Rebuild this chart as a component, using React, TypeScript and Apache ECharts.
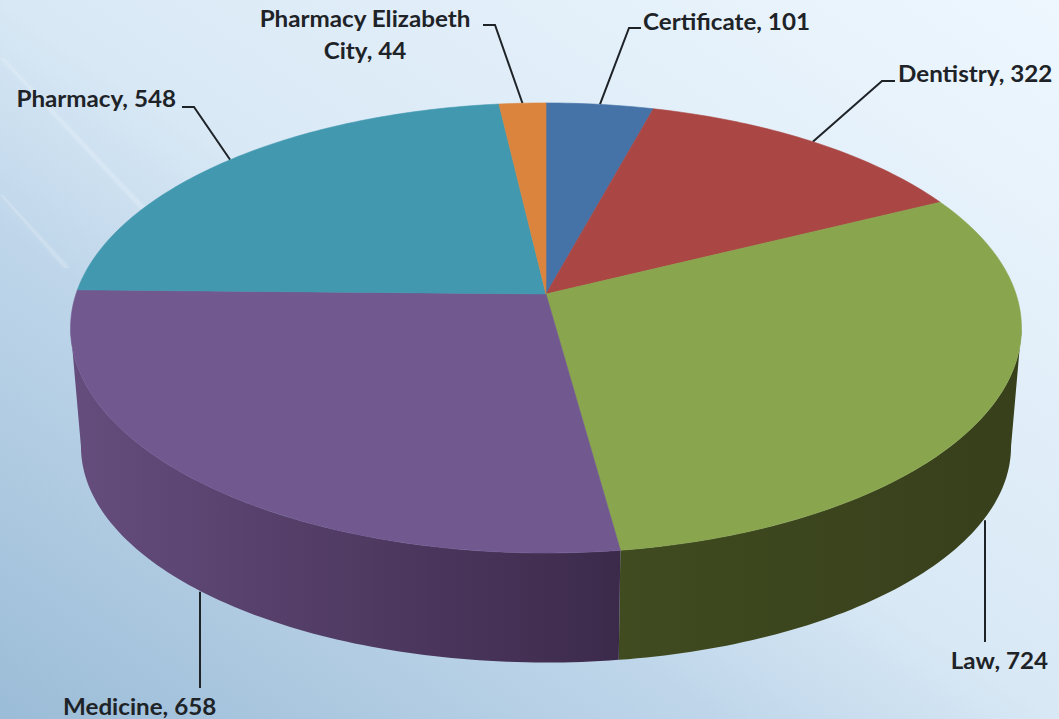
import React, { useEffect, useRef } from "react";
import * as echarts from "echarts";

const categories = ["Certificate", "Dentistry", "Law", "Medicine", "Pharmacy", "Pharmacy Elizabeth City"];
const values = [101, 322, 724, 658, 548, 44];
const colors = ["#4572A7", "#AA4643", "#89A54E", "#71588F", "#4198AF", "#DB843D"];
const wallLeft = ["#39608C", "#8E3A38", "#404B20", "#654D7D", "#367F92", "#B76E33"];
const wallRight = ["#39608C", "#8E3A38", "#373F1B", "#3C2A4B", "#367F92", "#B76E33"];

// label placement: text anchor point, alignment and leader elbow
const labelX = [643, 898, 1048, 63, 176, 365];
const labelY = [21, 73, 660, 706, 98, 34];
const labelAlign = ["left", "left", "right", "left", "right", "center"];
const elbowA = [[641, 28], [895, 81], [985, 642], [200, 688], [182, 107], [483, 25]];
const elbowB = [[629, 28], [882, 81], null, null, [194, 107], [495, 25]];

const W = 1059;
const H = 719;
const P = 0.151;
const TOP = { cx: 546, cy: 294, a: 470, b: 219.9 };
const BOTTOM = { cx: 546, cy: 414, a: 459.7, b: 211 };
const total = values.reduce((s, v) => s + v, 0);
const starts = values.map((_, i) => values.slice(0, i).reduce((s, v) => s + v, 0));
const toDeg = (v: number) => (v / total) * 360;

function project(d: typeof TOP, deg: number): number[] {
  const t = (deg * Math.PI) / 180;
  const u = Math.sin(t);
  const v = Math.cos(t);
  const k = 1 + P * v;
  return [d.cx + (d.a * u) / k, d.cy - (d.b * v) / k];
}

function arc(d: typeof TOP, a0: number, a1: number): number[][] {
  const n = Math.max(2, Math.ceil(Math.abs(a1 - a0)));
  const pts: number[][] = [];
  for (let i = 0; i <= n; i++) pts.push(project(d, a0 + ((a1 - a0) * i) / n));
  return pts;
}

const VIS_R = (Math.acos(-P) * 180) / Math.PI;
const VIS_L = 360 - VIS_R;

function renderSlice(params: any, api: any) {
  const i = params.dataIndex;
  const a0 = toDeg(starts[i]);
  const a1 = a0 + toDeg(api.value(0));
  const children: any[] = [];
  const w0 = Math.max(a0, VIS_R);
  const w1 = Math.min(a1, VIS_L);
  if (w1 > w0) {
    children.push({
      type: "polygon",
      shape: { points: [...arc(TOP, w0, w1), ...arc(BOTTOM, w1, w0)] },
      style: {
        fill: new echarts.graphic.LinearGradient(0, 0, 1, 0, [
          { offset: 0, color: wallLeft[i] },
          { offset: 1, color: wallRight[i] },
        ]),
      },
    });
  }
  children.push({
    type: "polygon",
    shape: { points: [[TOP.cx, TOP.cy], ...arc(TOP, a0, a1)] },
    style: { fill: colors[i], stroke: colors[i], lineWidth: 0.6 },
  });
  return { type: "group", children };
}

function renderLabel(params: any, api: any) {
  const i = params.dataIndex;
  const value = api.value(0);
  const mid = toDeg(starts[i]) + toDeg(value) / 2;
  const front = mid > VIS_R && mid < VIS_L;
  const rim = project(front ? BOTTOM : TOP, mid);
  const anchor = elbowB[i] ? rim : [elbowA[i][0], rim[1]];
  const pts = [elbowA[i], elbowB[i], anchor].filter(Boolean) as number[][];
  const name = categories[i].replace("Elizabeth ", "Elizabeth\n");
  return {
    type: "group",
    children: [
      {
        type: "polyline",
        shape: { points: pts },
        style: { stroke: "#1E2328", lineWidth: 2, fill: "none" },
      },
      {
        type: "text",
        x: labelX[i],
        y: labelY[i],
        scaleX: 1.1,
        style: {
          text: `${name}, ${value}`,
          fill: "#1E2328",
          font: "bold 22px Lato",
          textAlign: labelAlign[i],
          textVerticalAlign: "middle",
          lineHeight: 32,
        },
      },
    ],
  };
}

const streaks = [
  [[0, 58], [4, 58], [150, 212], [143, 212]],
  [[0, 195], [3, 195], [70, 268], [64, 268]],
];

export default function App() {
  const ref = useRef<HTMLDivElement>(null);
  useEffect(() => {
    document.body.style.margin = "0";
    const chart = echarts.init(ref.current!, undefined, { renderer: "svg" });
    chart.setOption({
      animation: false,
      graphic: [
        {
          type: "rect",
          z: -10,
          silent: true,
          shape: { x: 0, y: 0, width: W, height: H },
          style: {
            fill: new echarts.graphic.LinearGradient(0, 1, 1, 0, [
              { offset: 0, color: "#9BBCD7" },
              { offset: 0.34, color: "#BFD6EA" },
              { offset: 0.5, color: "#D8E8F5" },
              { offset: 1, color: "#EEF7FE" },
            ]),
          },
        },
        ...streaks.map((points) => ({
          type: "polygon",
          z: -9,
          silent: true,
          shape: { points },
          style: {
            fill: "rgba(255,255,255,0.16)",
            shadowBlur: 5,
            shadowColor: "rgba(255,255,255,0.5)",
          },
        })),
      ],
      series: [
        {
          type: "custom",
          coordinateSystem: "none",
          z: 1,
          silent: true,
          data: values,
          renderItem: renderLabel,
        },
        {
          type: "custom",
          coordinateSystem: "none",
          z: 2,
          silent: true,
          data: values,
          renderItem: renderSlice,
        },
      ],
    });
    return () => chart.dispose();
  }, []);
  return <div ref={ref} style={{ width: W, height: H }} />;
}
